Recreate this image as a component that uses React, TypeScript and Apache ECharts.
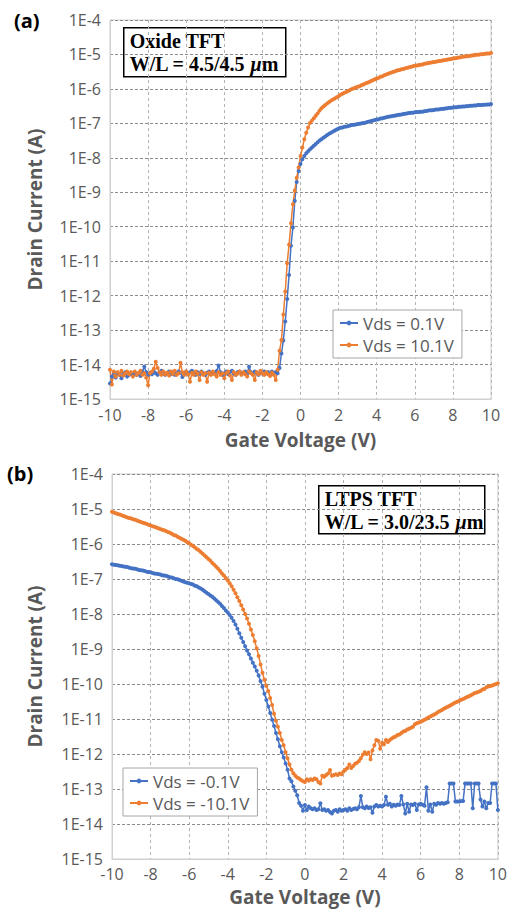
import React, { useEffect, useRef } from 'react';
import * as echarts from 'echarts';

// Gate voltage sweep (V)
const GATE_VOLTAGE = [
  -10, -9.9, -9.8, -9.7, -9.6, -9.5, -9.4, -9.3, -9.2, -9.1,
  -9, -8.9, -8.8, -8.7, -8.6, -8.5, -8.4, -8.3, -8.2, -8.1,
  -8, -7.9, -7.8, -7.7, -7.6, -7.5, -7.4, -7.3, -7.2, -7.1,
  -7, -6.9, -6.8, -6.7, -6.6, -6.5, -6.4, -6.3, -6.2, -6.1,
  -6, -5.9, -5.8, -5.7, -5.6, -5.5, -5.4, -5.3, -5.2, -5.1,
  -5, -4.9, -4.8, -4.7, -4.6, -4.5, -4.4, -4.3, -4.2, -4.1,
  -4, -3.9, -3.8, -3.7, -3.6, -3.5, -3.4, -3.3, -3.2, -3.1,
  -3, -2.9, -2.8, -2.7, -2.6, -2.5, -2.4, -2.3, -2.2, -2.1,
  -2, -1.9, -1.8, -1.7, -1.6, -1.5, -1.4, -1.3, -1.2, -1.1,
  -1, -0.9, -0.8, -0.7, -0.6, -0.5, -0.4, -0.3, -0.2, -0.1,
  0, 0.1, 0.2, 0.3, 0.4, 0.5, 0.6, 0.7, 0.8, 0.9,
  1, 1.1, 1.2, 1.3, 1.4, 1.5, 1.6, 1.7, 1.8, 1.9,
  2, 2.1, 2.2, 2.3, 2.4, 2.5, 2.6, 2.7, 2.8, 2.9,
  3, 3.1, 3.2, 3.3, 3.4, 3.5, 3.6, 3.7, 3.8, 3.9,
  4, 4.1, 4.2, 4.3, 4.4, 4.5, 4.6, 4.7, 4.8, 4.9,
  5, 5.1, 5.2, 5.3, 5.4, 5.5, 5.6, 5.7, 5.8, 5.9,
  6, 6.1, 6.2, 6.3, 6.4, 6.5, 6.6, 6.7, 6.8, 6.9,
  7, 7.1, 7.2, 7.3, 7.4, 7.5, 7.6, 7.7, 7.8, 7.9,
  8, 8.1, 8.2, 8.3, 8.4, 8.5, 8.6, 8.7, 8.8, 8.9,
  9, 9.1, 9.2, 9.3, 9.4, 9.5, 9.6, 9.7, 9.8, 9.9,
  10,
];

// log10 of drain current (A) — (a) Oxide TFT, Vds = 0.1V
const OXIDE_VDS_0_1 = [
  -14.55, -14.35, -14.22, -14.38, -14.25, -14.3, -14.4, -14.28, -14.22, -14.35,
  -14.3, -14.26, -14.32, -14.24, -14.3, -14.27, -14.33, -14.2, -14.06, -14.22,
  -14.3, -14.24, -14.28, -14.2, -14.25, -14.3, -14.22, -14.18, -14.26, -14.3,
  -14.24, -14.2, -14.28, -14.22, -14.3, -14.26, -14.2, -14.24, -14.36, -14.25,
  -14.2, -14.28, -14.22, -14.18, -14.26, -14.3, -14.22, -14.27, -14.2, -14.25,
  -14.3, -14.24, -14.2, -14.28, -14.22, -14.26, -14.19, -14.03, -14.22, -14.3,
  -14.25, -14.2, -14.28, -14.22, -14.18, -14.26, -14.3, -14.22, -14.2, -14.27,
  -14.24, -14.2, -14.26, -14.06, -14.22, -14.28, -14.2, -14.24, -14.3, -14.22,
  -14.26, -14.2, -14.25, -14.22, -14.28, -14.2, -14.26, -14.22, -14.25, -14.1,
  -13.68, -13.3, -12.75, -12.1, -11.4, -10.55, -10.02, -9.25, -8.7, -8.38,
  -8.18, -8.04, -7.95, -7.87, -7.81, -7.75, -7.7, -7.65, -7.6, -7.55,
  -7.5, -7.46, -7.42, -7.38, -7.34, -7.3, -7.27, -7.24, -7.21, -7.18,
  -7.15, -7.13, -7.12, -7.1, -7.09, -7.08, -7.06, -7.05, -7.04, -7.03,
  -7.02, -7.01, -7.0, -6.99, -6.98, -6.96, -6.95, -6.93, -6.92, -6.9,
  -6.89, -6.88, -6.86, -6.85, -6.84, -6.82, -6.81, -6.8, -6.79, -6.78,
  -6.77, -6.76, -6.75, -6.74, -6.73, -6.72, -6.71, -6.7, -6.69, -6.69,
  -6.68, -6.67, -6.67, -6.66, -6.66, -6.65, -6.64, -6.63, -6.62, -6.62,
  -6.61, -6.6, -6.6, -6.59, -6.58, -6.58, -6.57, -6.56, -6.55, -6.55,
  -6.54, -6.53, -6.53, -6.52, -6.52, -6.51, -6.51, -6.5, -6.5, -6.49,
  -6.49, -6.48, -6.48, -6.47, -6.47, -6.47, -6.46, -6.46, -6.45, -6.45,
  -6.44,
];

// log10 of drain current (A) — (a) Oxide TFT, Vds = 10.1V
const OXIDE_VDS_10_1 = [
  -14.15, -14.58, -14.2, -14.35, -14.22, -14.3, -14.18, -14.32, -14.25, -14.2,
  -14.28, -14.22, -14.35, -14.2, -14.3, -14.24, -14.18, -14.3, -14.25, -14.38,
  -14.6, -14.25, -14.2, -14.12, -13.92, -14.1, -14.22, -14.3, -14.2, -14.28,
  -14.24, -14.32, -14.2, -14.27, -14.18, -14.3, -14.25, -13.95, -14.22, -14.3,
  -14.2, -14.28, -14.5, -14.24, -14.3, -14.2, -14.27, -14.45, -14.22, -14.3,
  -14.25, -14.5, -14.24, -14.3, -14.2, -14.28, -14.35, -14.22, -14.3, -14.26,
  -14.4, -14.25, -14.2, -14.32, -14.45, -14.22, -14.3, -14.26, -14.2, -14.3,
  -14.22, -14.28, -14.35, -14.2, -14.25, -14.3, -14.45, -14.22, -14.28, -14.18,
  -14.25, -14.3, -14.22, -14.28, -14.33, -14.24, -14.3, -14.45, -14.15, -13.6,
  -13.29, -12.55, -11.88, -11.06, -10.52, -9.9, -9.35, -8.95, -8.58, -8.28,
  -7.95, -7.7, -7.46, -7.27, -7.12, -6.99, -6.92, -6.85, -6.78, -6.71,
  -6.63, -6.56, -6.51, -6.47, -6.42, -6.38, -6.34, -6.31, -6.28, -6.24,
  -6.21, -6.17, -6.14, -6.11, -6.09, -6.06, -6.03, -6.0, -5.98, -5.96,
  -5.94, -5.92, -5.89, -5.87, -5.84, -5.82, -5.8, -5.77, -5.75, -5.72,
  -5.7, -5.68, -5.65, -5.63, -5.6, -5.58, -5.56, -5.54, -5.52, -5.5,
  -5.48, -5.46, -5.45, -5.43, -5.42, -5.4, -5.39, -5.37, -5.36, -5.34,
  -5.33, -5.32, -5.31, -5.3, -5.29, -5.27, -5.26, -5.25, -5.24, -5.23,
  -5.22, -5.21, -5.2, -5.19, -5.18, -5.17, -5.16, -5.15, -5.14, -5.13,
  -5.12, -5.11, -5.1, -5.09, -5.08, -5.07, -5.06, -5.05, -5.05, -5.04,
  -5.03, -5.02, -5.01, -5.01, -5.0, -4.99, -4.99, -4.98, -4.97, -4.97,
  -4.96,
];

// log10 of drain current (A) — (b) LTPS TFT, Vds = -0.1V
const LTPS_VDS_M0_1 = [
  -6.58, -6.59, -6.6, -6.61, -6.62, -6.63, -6.64, -6.65, -6.66, -6.68,
  -6.69, -6.7, -6.71, -6.72, -6.74, -6.75, -6.76, -6.77, -6.79, -6.8,
  -6.81, -6.83, -6.84, -6.85, -6.86, -6.87, -6.89, -6.9, -6.91, -6.93,
  -6.95, -6.96, -6.98, -7.0, -7.01, -7.03, -7.05, -7.07, -7.09, -7.11,
  -7.12, -7.14, -7.16, -7.19, -7.21, -7.24, -7.27, -7.31, -7.35, -7.39,
  -7.43, -7.47, -7.51, -7.56, -7.61, -7.66, -7.71, -7.77, -7.83, -7.9,
  -7.96, -8.03, -8.11, -8.2, -8.3, -8.42, -8.55, -8.68, -8.8, -8.92,
  -9.04, -9.15, -9.27, -9.39, -9.5, -9.62, -9.76, -9.92, -10.08, -10.28,
  -10.46, -10.64, -10.83, -11.02, -11.2, -11.4, -11.58, -11.78, -11.95, -12.1,
  -12.27, -12.45, -12.7, -12.78, -12.93, -13.05, -13.18, -13.4, -13.48, -13.62,
  -13.46, -13.6, -13.5, -13.55, -13.58, -13.55, -13.6, -13.58, -13.41, -13.6,
  -13.58, -13.62, -13.6, -13.66, -13.7, -13.62, -13.6, -13.65, -13.58, -13.62,
  -13.6, -13.58, -13.62, -13.55, -13.6, -13.57, -13.55, -13.58, -13.52, -13.2,
  -13.52, -13.55, -13.5, -13.54, -13.52, -13.68, -13.5, -13.46, -13.5, -13.48,
  -13.5, -13.46, -13.22, -13.45, -13.42, -13.5, -13.45, -13.48, -13.44, -13.46,
  -13.2, -13.44, -13.7, -13.42, -13.65, -13.44, -13.46, -13.42, -13.6, -13.44,
  -13.42, -13.45, -13.48, -12.95, -13.62, -13.44, -13.65, -13.42, -13.45, -13.4,
  -13.42, -13.4, -13.42, -13.4, -13.38, -12.84, -12.84, -12.84, -13.36, -13.36,
  -13.36, -13.34, -13.34, -12.84, -12.84, -12.84, -12.84, -13.55, -12.84, -12.84,
  -12.84, -13.3, -13.5, -13.36, -13.55, -13.4, -13.4, -12.84, -12.84, -12.84,
  -13.6,
];

// log10 of drain current (A) — (b) LTPS TFT, Vds = -10.1V
const LTPS_VDS_M10_1 = [
  -5.08, -5.1, -5.12, -5.14, -5.16, -5.18, -5.2, -5.22, -5.24, -5.26,
  -5.27, -5.29, -5.31, -5.33, -5.35, -5.37, -5.39, -5.41, -5.43, -5.45,
  -5.47, -5.49, -5.51, -5.53, -5.55, -5.57, -5.59, -5.61, -5.63, -5.66,
  -5.68, -5.71, -5.74, -5.76, -5.79, -5.82, -5.85, -5.88, -5.91, -5.95,
  -5.98, -6.02, -6.06, -6.1, -6.14, -6.18, -6.23, -6.28, -6.33, -6.38,
  -6.43, -6.48, -6.54, -6.59, -6.65, -6.71, -6.77, -6.84, -6.9, -6.97,
  -7.04, -7.12, -7.21, -7.31, -7.41, -7.52, -7.63, -7.75, -7.87, -8.0,
  -8.13, -8.28, -8.44, -8.6, -8.78, -8.98, -9.2, -9.44, -9.68, -9.88,
  -10.05, -10.2, -10.4, -10.6, -10.85, -11.05, -11.22, -11.4, -11.6, -11.75,
  -11.95, -12.12, -12.3, -12.45, -12.55, -12.62, -12.67, -12.7, -12.74, -12.78,
  -12.8, -12.72, -12.76, -12.72, -12.74, -12.7, -12.72, -12.8, -12.84, -12.62,
  -12.65, -12.6, -12.56, -12.46, -12.62, -12.6, -12.58, -12.6, -12.56, -12.58,
  -12.5, -12.45, -12.4, -12.3, -12.4, -12.34, -12.28, -12.25, -12.2, -12.12,
  -12.02, -11.95, -12.0, -11.96, -12.15, -11.9, -11.75, -11.6, -11.62, -11.85,
  -11.68, -11.72, -11.6, -11.66, -11.6, -11.56, -11.52, -11.5, -11.46, -11.44,
  -11.4, -11.36, -11.34, -11.3, -11.28, -11.25, -11.22, -11.15, -11.12, -11.1,
  -11.08, -11.05, -11.02, -10.99, -10.96, -10.93, -10.9, -10.87, -10.84, -10.8,
  -10.77, -10.74, -10.71, -10.68, -10.65, -10.62, -10.59, -10.56, -10.53, -10.51,
  -10.48, -10.45, -10.43, -10.4, -10.37, -10.35, -10.32, -10.29, -10.26, -10.24,
  -10.22, -10.2, -10.16, -10.14, -10.09, -10.07, -10.06, -10.04, -10.02, -10.0,
  -9.98,
];

const LEGEND_A = ['Vds = 0.1V', 'Vds = 10.1V'];
const LEGEND_B = ['Vds = -0.1V', 'Vds = -10.1V'];

const BLUE = '#4472C4';
const ORANGE = '#ED7D31';
const FONT = '"Open Sans", "Noto Sans", sans-serif';
const SERIF = '"Liberation Serif", "DejaVu Serif", serif';
const GRAY = '#595959';

function makeSeries(name: string, ys: number[], color: string, idx: number) {
  return {
    type: 'line',
    name,
    xAxisIndex: idx,
    yAxisIndex: idx,
    data: GATE_VOLTAGE.map((v, i) => [v, ys[i]]),
    symbol: 'circle',
    symbolSize: 4,
    showSymbol: true,
    lineStyle: { color, width: 1.5 },
    itemStyle: { color },
    emphasis: { disabled: true },
    silent: true,
  };
}

function xAxisCfg(gridIndex: number, nameGap: number, margin: number) {
  return {
    gridIndex,
    type: 'value',
    min: -10,
    max: 10,
    interval: 2,
    axisLine: { show: true, onZero: false, lineStyle: { color: '#d0d0d0', width: 1 } },
    axisTick: { show: false },
    axisLabel: { fontSize: 16, color: GRAY, margin, fontFamily: FONT },
    splitLine: { show: true, lineStyle: { color: '#b4b4b4', type: [3, 3], width: 1 } },
    name: 'Gate Voltage (V)',
    nameLocation: 'middle',
    nameGap,
    nameTextStyle: { fontSize: 19, fontWeight: 'bold', color: GRAY, fontFamily: FONT },
  };
}

function yAxisCfg(gridIndex: number, nameGap: number) {
  return {
    gridIndex,
    type: 'value',
    min: -15,
    max: -4,
    interval: 1,
    axisLine: { show: true, onZero: false, lineStyle: { color: '#d0d0d0', width: 1 } },
    axisTick: { show: false },
    axisLabel: {
      fontSize: 16,
      color: GRAY,
      margin: 9,
      fontFamily: FONT,
      formatter: (v: number) => '1E' + v,
    },
    splitLine: { show: true, lineStyle: { color: '#8c8c8c', type: [3, 2], width: 1 } },
    name: 'Drain Current (A)',
    nameLocation: 'middle',
    nameRotate: 90,
    nameGap,
    nameTextStyle: { fontSize: 19, fontWeight: 'bold', color: GRAY, fontFamily: FONT },
  };
}

function legendCfg(data: string[], left: number, top: number) {
  return {
    data,
    left,
    top,
    orient: 'vertical',
    backgroundColor: '#ffffff',
    borderColor: '#a6a6a6',
    borderWidth: 1,
    borderRadius: 0,
    padding: [4, 8, 4, 6],
    itemGap: 4,
    itemWidth: 18,
    itemHeight: 6,
    selectedMode: false,
    textStyle: { fontSize: 17, lineHeight: 18, color: GRAY, fontFamily: FONT },
  };
}

function annotation(left: number, top: number, w: number, h: number, line1: string, line2: string) {
  const base = { fontFamily: SERIF, fontWeight: 'bold', fontSize: 20, fill: '#000', lineHeight: 23 };
  return {
    type: 'group',
    left,
    top,
    children: [
      {
        type: 'rect',
        shape: { x: 0, y: 0, width: w, height: h },
        style: { fill: '#ffffff', stroke: '#000000', lineWidth: 1.5 },
      },
      {
        type: 'text',
        x: 6,
        y: 2,
        style: {
          ...base,
          text: line1 + '\n' + line2 + '{mu|μ}m',
          rich: {
            mu: { ...base, fontStyle: 'italic' },
          },
        },
      },
    ],
  };
}

export default function App() {
  const ref = useRef<HTMLDivElement>(null);

  useEffect(() => {
    if (!ref.current) return;
    const chart = echarts.init(ref.current, undefined, { renderer: 'svg' });
    chart.setOption({
      animation: false,
      backgroundColor: '#ffffff',
      textStyle: { fontFamily: FONT },
      grid: [
        { left: 110, top: 20, width: 381, height: 379, show: true, borderColor: '#d0d0d0', borderWidth: 1, backgroundColor: 'transparent' },
        { left: 112, top: 474, width: 386, height: 385, show: true, borderColor: '#d0d0d0', borderWidth: 1, backgroundColor: 'transparent' },
      ],
      xAxis: [xAxisCfg(0, 31, 8), xAxisCfg(1, 28, 7)],
      yAxis: [yAxisCfg(0, 66), yAxisCfg(1, 68)],
      legend: [legendCfg(LEGEND_A, 333, 310), legendCfg(LEGEND_B, 123, 768)],
      series: [
        makeSeries(LEGEND_A[0], OXIDE_VDS_0_1, BLUE, 0),
        makeSeries(LEGEND_A[1], OXIDE_VDS_10_1, ORANGE, 0),
        makeSeries(LEGEND_B[0], LTPS_VDS_M0_1, BLUE, 1),
        makeSeries(LEGEND_B[1], LTPS_VDS_M10_1, ORANGE, 1),
      ],
      graphic: [
        { type: 'text', left: 14, top: 10, style: { text: '(a)', fontFamily: FONT, fontWeight: 'bold', fontSize: 20, fill: '#000' } },
        { type: 'text', left: 7, top: 463, style: { text: '(b)', fontFamily: FONT, fontWeight: 'bold', fontSize: 20, fill: '#000' } },
        annotation(123, 27, 162, 49, 'Oxide TFT', 'W/L = 4.5/4.5 '),
        annotation(318, 485, 166, 48, 'LTPS TFT', 'W/L = 3.0/23.5 '),
      ],
    });
    return () => chart.dispose();
  }, []);

  return (
    <div
      ref={ref}
      style={{ position: 'absolute', left: 0, top: 0, width: 510, height: 914, background: '#fff' }}
    />
  );
}
